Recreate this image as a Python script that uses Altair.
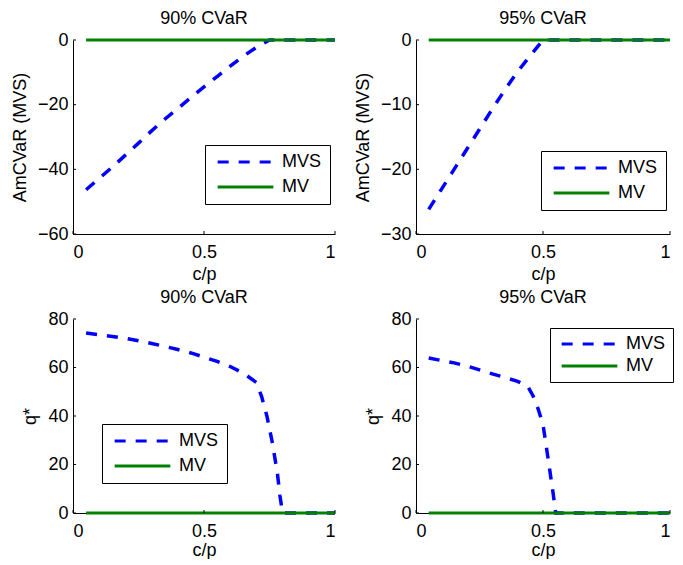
import altair as alt
import pandas as pd

FONT = "Liberation Sans"

# ---- data ----
SERIES = ["MVS", "MV"]
COLORS = ["#0000ff", "#008000"]
DASHES = [[11, 10], [1, 0]]

X_TICKS = [0, 0.5, 1]

cp_grid = [0.05, 0.10, 0.15, 0.20, 0.25, 0.30, 0.35, 0.40, 0.45, 0.50,
           0.55, 0.60, 0.65, 0.70, 0.75, 0.80, 0.85, 0.90, 0.95, 1.00]
mv_zero = [0, 0, 0, 0, 0, 0, 0, 0, 0, 0, 0, 0, 0, 0, 0, 0, 0, 0, 0, 0]

# Panel 1: AmCVaR, 90% CVaR
mvs_amcvar_90 = [-46.3, -42.8, -39.3, -35.6, -31.9, -28.1, -24.5, -21.2, -17.8, -14.5,
                 -11.3, -8.1, -5.0, -2.3, 0, 0, 0, 0, 0, 0]
# Panel 2: AmCVaR, 95% CVaR
mvs_amcvar_95 = [-26.2, -23.1, -20.0, -16.9, -13.8, -10.7, -7.7, -4.9, -2.4, 0,
                 0, 0, 0, 0, 0, 0, 0, 0, 0, 0]
# Panel 3: q*, 90% CVaR
cp_q90 = [0.05, 0.10, 0.15, 0.20, 0.25, 0.30, 0.35, 0.40, 0.45, 0.50, 0.55, 0.60,
          0.65, 0.70, 0.72, 0.74, 0.76, 0.78, 0.79, 0.80, 0.85, 0.90, 0.95, 1.00]
mvs_q90 = [74.2, 73.5, 72.8, 72.0, 71.0, 69.9, 68.7, 67.4, 66.0, 64.3, 62.5, 60.4,
           57.7, 53.8, 48.0, 40.0, 29.5, 16.5, 7.0, 0, 0, 0, 0, 0]
# Panel 4: q*, 95% CVaR
cp_q95 = [0.05, 0.10, 0.15, 0.20, 0.25, 0.30, 0.35, 0.40, 0.44, 0.46, 0.48, 0.50,
          0.52, 0.54, 0.55, 0.60, 0.70, 0.80, 0.90, 1.00]
mvs_q95 = [63.9, 62.9, 61.9, 60.6, 59.0, 57.4, 55.9, 54.3, 52.2, 48.5, 43.2, 36.5,
           22.5, 8.0, 0, 0, 0, 0, 0, 0]


def panel(cp_mvs, v_mvs, title, ytitle, ydomain, yticks, w, h, lx, ly,
          lpad=8, lrow=7, xtitle_pad=4):
    mvs = pd.DataFrame({"cp": cp_mvs, "val": v_mvs, "series": "MVS"})
    mv = pd.DataFrame({"cp": cp_grid, "val": mv_zero, "series": "MV"})
    xt = pd.DataFrame({"cp": X_TICKS})
    yt = pd.DataFrame({"val": yticks})

    xenc = alt.X("cp:Q",
                 scale=alt.Scale(domain=[0, 1], nice=False, zero=False),
                 axis=alt.Axis(values=X_TICKS, format="~g", title="c/p",
                               labelPadding=9, titlePadding=xtitle_pad))
    yenc = alt.Y("val:Q",
                 scale=alt.Scale(domain=ydomain, nice=False, zero=False),
                 axis=alt.Axis(values=yticks, title=ytitle,
                               labelPadding=5, titlePadding=8))
    leg = alt.Legend(title=None, orient="none", legendX=lx, legendY=ly,
                     direction="vertical", symbolType="stroke",
                     symbolSize=3100, symbolStrokeWidth=3, symbolOffset=3,
                     labelOffset=7, labelFont=FONT, labelFontSize=18,
                     labelColor="black", labelLimit=300, padding=lpad,
                     rowPadding=lrow, clipHeight=18, strokeColor="black",
                     fillColor="white", cornerRadius=0)
    color = alt.Color("series:N", scale=alt.Scale(domain=SERIES, range=COLORS), legend=leg)
    dash = alt.StrokeDash("series:N", scale=alt.Scale(domain=SERIES, range=DASHES), legend=leg)

    l_mvs = alt.Chart(mvs).mark_line(strokeWidth=3.5, strokeCap="butt").encode(
        x=xenc, y=yenc, color=color, strokeDash=dash)
    l_mv = alt.Chart(mv).mark_line(strokeWidth=3).encode(
        x=xenc, y=yenc, color=color, strokeDash=dash)
    xt_l = alt.Chart(xt).mark_rule(color="black", strokeWidth=1).encode(
        x=xenc, y=alt.value(h), y2=alt.value(h - 3))
    yt_l = alt.Chart(yt).mark_rule(color="black", strokeWidth=1).encode(
        y=yenc, x=alt.value(0), x2=alt.value(3))
    return alt.layer(l_mvs, l_mv, xt_l, yt_l).properties(
        width=w, height=h,
        title=alt.TitleParams(text=title, frame="group", baseline="alphabetic",
                              offset=-11, anchor="middle", font=FONT,
                              fontSize=18, fontWeight="normal", color="black"))


p1 = panel(cp_grid, mvs_amcvar_90, "90% CVaR", "AmCVaR (MVS)", [-60, 0], [-60, -40, -20, 0], 262, 194, 132, 105)
p2 = panel(cp_grid, mvs_amcvar_95, "95% CVaR", "AmCVaR (MVS)", [-30, 0], [-30, -20, -10, 0], 254, 194, 125, 111)
p3 = panel(cp_q90, mvs_q90, "90% CVaR", "q*", [0, 80], [0, 20, 40, 60, 80], 262, 194, 29, 105,
           xtitle_pad=1)
p4 = panel(cp_q95, mvs_q95, "95% CVaR", "q*", [0, 80], [0, 20, 40, 60, 80], 254, 194, 134, 9,
           lpad=7, lrow=4, xtitle_pad=1)

chart = alt.concat(p1, p2, p3, p4, columns=2, spacing={"row": 6, "column": 12}).resolve_scale(
    x="independent", y="independent", color="independent", strokeDash="independent"
).resolve_legend(color="independent", strokeDash="independent").properties(
    padding={"left": 3, "top": 2, "right": -3, "bottom": 0}
).configure_axis(
    labelFont=FONT, labelFontSize=18, titleFont=FONT, titleFontSize=18,
    titleFontWeight="normal", labelColor="black", titleColor="black",
    domainColor="black", domainWidth=1, ticks=False, grid=False
).configure_view(stroke=None)

chart.save("out.html", embed_options={"renderer": "svg", "actions": False})
